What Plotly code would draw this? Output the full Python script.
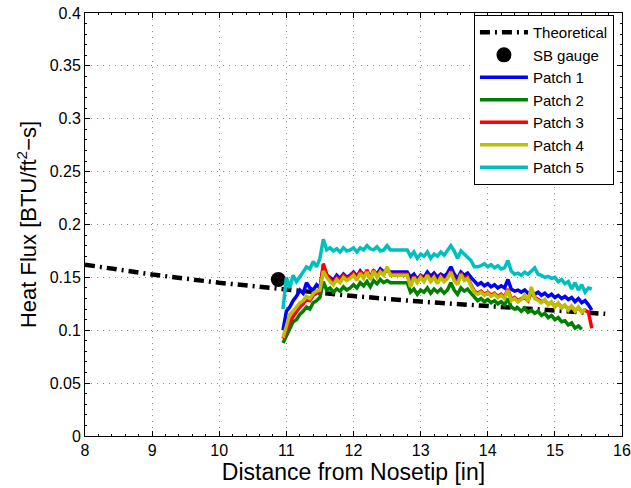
import plotly.graph_objects as go

# Theoretical curve
theo_x = [8.0, 9.0, 10.0, 11.0, 12.0, 13.0, 14.0, 15.0, 15.75]
theo_y = [0.1620, 0.1527, 0.1449, 0.1382, 0.1323, 0.1271, 0.1225, 0.1183, 0.1155]

# SB gauge
sb_x = [10.88]
sb_y = [0.148]

# Patch x positions [in]
patch_x = [
    10.95, 11.00, 11.05, 11.10, 11.15, 11.20, 11.25, 11.30, 11.35, 11.40,
    11.45, 11.50, 11.55, 11.60, 11.65, 11.70, 11.75, 11.80, 11.85, 11.90,
    11.95, 12.00, 12.05, 12.10, 12.15, 12.20, 12.25, 12.30, 12.35, 12.40,
    12.45, 12.50, 12.55, 12.60, 12.65, 12.70, 12.75, 12.80, 12.85, 12.90,
    12.95, 13.00, 13.05, 13.10, 13.15, 13.20, 13.25, 13.30, 13.35, 13.40,
    13.45, 13.50, 13.55, 13.60, 13.65, 13.70, 13.75, 13.80, 13.85, 13.90,
    13.95, 14.00, 14.05, 14.10, 14.15, 14.20, 14.25, 14.30, 14.35, 14.40,
    14.45, 14.50, 14.55, 14.60, 14.65, 14.70, 14.75, 14.80, 14.85, 14.90,
    14.95, 15.00, 15.05, 15.10, 15.15, 15.20, 15.25, 15.30, 15.35, 15.40,
    15.45, 15.50, 15.55,
]

patch1 = [
    .100, .118, .122, .128, .132, .138, .135, .145, .140, .138,
    .143, .140, .160, .152, .150, .147, .152, .149, .153, .150,
    .152, .155, .151, .156, .152, .155, .150, .156, .153, .158,
    .155, .157, .155, .155, .155, .155, .155, .155, .150, .153,
    .148, .152, .150, .155, .151, .154, .150, .153, .151, .154,
    .160, .153, .149, .155, .152, .154, .150, .146, .143, .145,
    .142, .144, .141, .143, .140, .142, .140, .148, .139, .137,
    .138, .136, .138, .135, .137, .134, .136, .133, .135, .132,
    .134, .131, .133, .130, .132, .129, .131, .127, .130, .126,
    .128, .124, .119,
]

patch2 = [
    .088, .095, .102, .108, .110, .115, .118, .122, .120, .126,
    .128, .131, .146, .138, .140, .136, .139, .137, .141, .138,
    .140, .143, .140, .145, .142, .146, .141, .147, .144, .148,
    .145, .147, .145, .145, .145, .145, .145, .145, .136, .139,
    .134, .138, .136, .140, .135, .139, .136, .139, .135, .138,
    .145, .138, .134, .140, .137, .139, .135, .131, .128, .130,
    .127, .129, .126, .128, .125, .127, .124, .130, .122, .120,
    .121, .118, .121, .117, .119, .116, .118, .114, .116, .112,
    .114, .110, .112, .108, .109, .105, .107, .102, .104, .101,
]

patch3 = [
    .092, .100, .108, .113, .118, .122, .125, .129, .128, .133,
    .135, .137, .163, .153, .148, .145, .150, .147, .152, .149,
    .151, .154, .149, .156, .150, .157, .149, .157, .151, .156,
    .153, .158, .153, .153, .153, .153, .153, .153, .143, .151,
    .146, .151, .147, .153, .147, .151, .145, .151, .147, .150,
    .156, .148, .144, .154, .148, .150, .143, .137, .135, .137,
    .134, .136, .133, .135, .132, .134, .131, .139, .129, .131,
    .128, .130, .131, .128, .136, .131, .129, .127, .128, .125,
    .126, .123, .125, .122, .123, .120, .122, .119, .121, .118,
    .119, .117, .102,
]

patch4 = [
    .093, .105, .115, .118, .122, .126, .128, .132, .130, .135,
    .137, .138, .156, .150, .146, .143, .148, .145, .150, .147,
    .149, .152, .147, .154, .149, .155, .148, .156, .150, .155,
    .152, .160, .152, .152, .152, .152, .152, .152, .141, .150,
    .145, .150, .146, .152, .146, .150, .144, .150, .146, .149,
    .155, .147, .143, .153, .147, .149, .142, .136, .134, .136,
    .133, .135, .132, .134, .131, .133, .130, .138, .128, .130,
    .127, .129, .133, .127, .141, .130, .128, .126, .129, .124,
    .127, .122, .126, .121, .124, .119, .123, .118, .122, .117,
    .120,
]

patch5 = [
    .120, .150, .140, .152, .146, .150, .155, .160, .158, .165,
    .160, .168, .186, .176, .178, .175, .177, .174, .178, .175,
    .176, .178, .174, .178, .176, .180, .177, .176, .179, .175,
    .176, .180, .176, .176, .176, .176, .176, .176, .170, .174,
    .168, .172, .170, .174, .168, .172, .170, .174, .171, .175,
    .180, .175, .168, .175, .172, .170, .166, .160, .160, .161,
    .163, .160, .162, .159, .161, .158, .159, .166, .156, .153,
    .154, .152, .155, .153, .156, .159, .153, .152, .150, .151,
    .149, .150, .146, .148, .144, .146, .139, .145, .138, .143,
    .136, .140, .139,
]

patch_names = ["Patch 1", "Patch 2", "Patch 3", "Patch 4", "Patch 5"]
patch_series = [patch1, patch2, patch3, patch4, patch5]
patch_colors = ["#0000ff", "#008000", "#ff0000", "#bfbf00", "#00bfbf"]

x_ticks = [8, 9, 10, 11, 12, 13, 14, 15, 16]
y_ticks = [0, 0.05, 0.1, 0.15, 0.2, 0.25, 0.3, 0.35, 0.4]
y_tick_text = ["0", "0.05", "0.1", "0.15", "0.2", "0.25", "0.3", "0.35", "0.4"]

FONT = "Liberation Sans, Arial, sans-serif"

fig = go.Figure()
fig.add_trace(go.Scatter(
    x=theo_x, y=theo_y, mode="lines", name="Theoretical",
    line=dict(color="black", width=4.5, dash="10px,5px,2px,5px"),
))
fig.add_trace(go.Scatter(
    x=sb_x, y=sb_y, mode="markers", name="SB gauge",
    marker=dict(color="black", size=15),
))
for name, ys, col in zip(patch_names, patch_series, patch_colors):
    fig.add_trace(go.Scatter(
        x=patch_x[:len(ys)], y=ys, mode="lines", name=name,
        line=dict(color=col, width=3.5),
    ))

axis_common = dict(
    showline=True, linecolor="black", linewidth=1, mirror="allticks",
    ticks="inside", ticklen=5, tickcolor="black", tickwidth=1,
    showgrid=True, gridcolor="rgba(0,0,0,0.45)", griddash="1px,5px", gridwidth=1,
    zeroline=False, automargin=False,
    tickfont=dict(family=FONT, size=16, color="black"),
)

fig.update_xaxes(
    range=[8, 16], tickvals=x_ticks,
    minor=dict(ticks="inside", ticklen=2, dtick=0.2, tickcolor="black", showgrid=False),
    title=dict(text="Distance from Nosetip [in]", font=dict(family=FONT, size=23, color="black"), standoff=3),
    **axis_common,
)
fig.update_yaxes(
    range=[0, 0.4], tickvals=y_ticks, ticktext=y_tick_text,
    minor=dict(ticks="inside", ticklen=2, dtick=0.01, tickcolor="black", showgrid=False),
    title=dict(text="Heat Flux [BTU/ft<sup>2</sup>−s]", font=dict(family=FONT, size=22, color="black"), standoff=6),
    **axis_common,
)

fig.update_layout(
    width=631, height=488,
    margin=dict(l=85, r=9, t=13, b=52),
    paper_bgcolor="white", plot_bgcolor="white",
    font=dict(family=FONT, color="black"),
    showlegend=True,
    legend=dict(
        x=0.985, y=0.995, xanchor="right", yanchor="top",
        bgcolor="white", bordercolor="black", borderwidth=1,
        font=dict(family=FONT, size=15, color="black"),
        tracegroupgap=0, itemwidth=48,
    ),
)

fig.write_html("out.html")
